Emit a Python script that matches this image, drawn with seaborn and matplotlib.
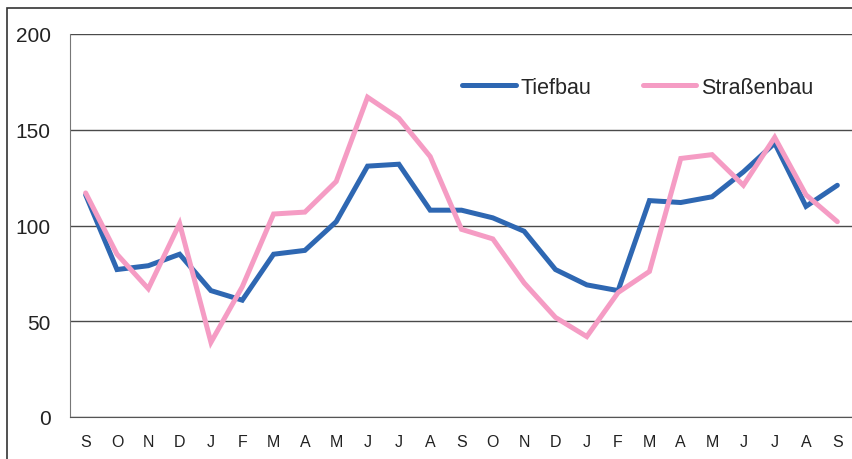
import pandas as pd
import matplotlib.pyplot as plt
import seaborn as sns
from matplotlib.patches import Rectangle

# Monate (Sep bis Sep, zwei Jahre)
monate = ['S', 'O', 'N', 'D', 'J', 'F', 'M', 'A', 'M', 'J', 'J', 'A',
          'S', 'O', 'N', 'D', 'J', 'F', 'M', 'A', 'M', 'J', 'J', 'A', 'S']

tiefbau = [116, 77, 79, 85, 66, 61, 85, 87, 102, 131, 132, 108,
           108, 104, 97, 77, 69, 66, 113, 112, 115, 128, 143, 110, 121]

strassenbau = [117, 85, 67, 101, 39, 68, 106, 107, 123, 167, 156, 136,
               98, 93, 70, 52, 42, 65, 76, 135, 137, 121, 146, 116, 102]

serien = ['Tiefbau', 'Straßenbau']
farben = ['#2e67b2', '#f59cc4']

df = pd.DataFrame({
    'pos': list(range(len(monate))) * 2,
    'wert': tiefbau + strassenbau,
    'serie': ['Tiefbau'] * len(monate) + ['Straßenbau'] * len(monate),
})

sns.set_style('white')
plt.rcParams['font.family'] = ['Liberation Sans', 'DejaVu Sans']

fig = plt.figure(figsize=(8.53, 4.6), dpi=100)
ax = fig.add_axes([70 / 853, 1 - 418 / 460, 783 / 853, 383 / 460])

sns.lineplot(data=df, x='pos', y='wert', hue='serie', hue_order=serien,
             palette=farben, linewidth=3.6, sort=False, ax=ax,
             solid_capstyle='round', solid_joinstyle='miter')

ax.set_xlim(-0.5, len(monate) - 0.5)
ax.set_ylim(0, 200)
ax.set_yticks([0, 50, 100, 150, 200])
ax.yaxis.grid(True, color='#4a4a4a', linewidth=1)
ax.set_axisbelow(True)
ax.set_xlabel('')
ax.set_ylabel('')

ax.set_xticks(range(len(monate)))
ax.set_xticklabels(monate)
ax.set_xticks([i - 0.5 for i in range(len(monate) + 1)], minor=True)
ax.tick_params(axis='x', which='major', length=0, pad=12, labelsize=11.5, labelcolor='#222222')
ax.tick_params(axis='x', which='minor', length=5, width=1, direction='out', color='#555555')
ax.tick_params(axis='y', length=6, width=1, direction='out', color='#555555',
               labelsize=15, labelcolor='#222222', pad=8)

for s in ['top', 'right']:
    ax.spines[s].set_visible(False)
ax.spines['left'].set_color('#777777')
ax.spines['bottom'].set_color('#555555')

handles, labels = ax.get_legend_handles_labels()
ax.legend(handles, labels, loc='center left', frameon=False,
          bbox_to_anchor=(462 / 853, 1 - 88 / 460), bbox_transform=fig.transFigure,
          ncol=2, fontsize=15.5, handlelength=2.5, handletextpad=0.2,
          columnspacing=2.4, borderpad=0, borderaxespad=0)

# Rahmen um die Grafik
fig.patches.append(Rectangle((7 / 853, -0.1), 2, 1 - 9 / 460 + 0.1,
                             transform=fig.transFigure, fill=False,
                             edgecolor='#333333', linewidth=1.2))

fig.savefig('out.png', dpi=100)
